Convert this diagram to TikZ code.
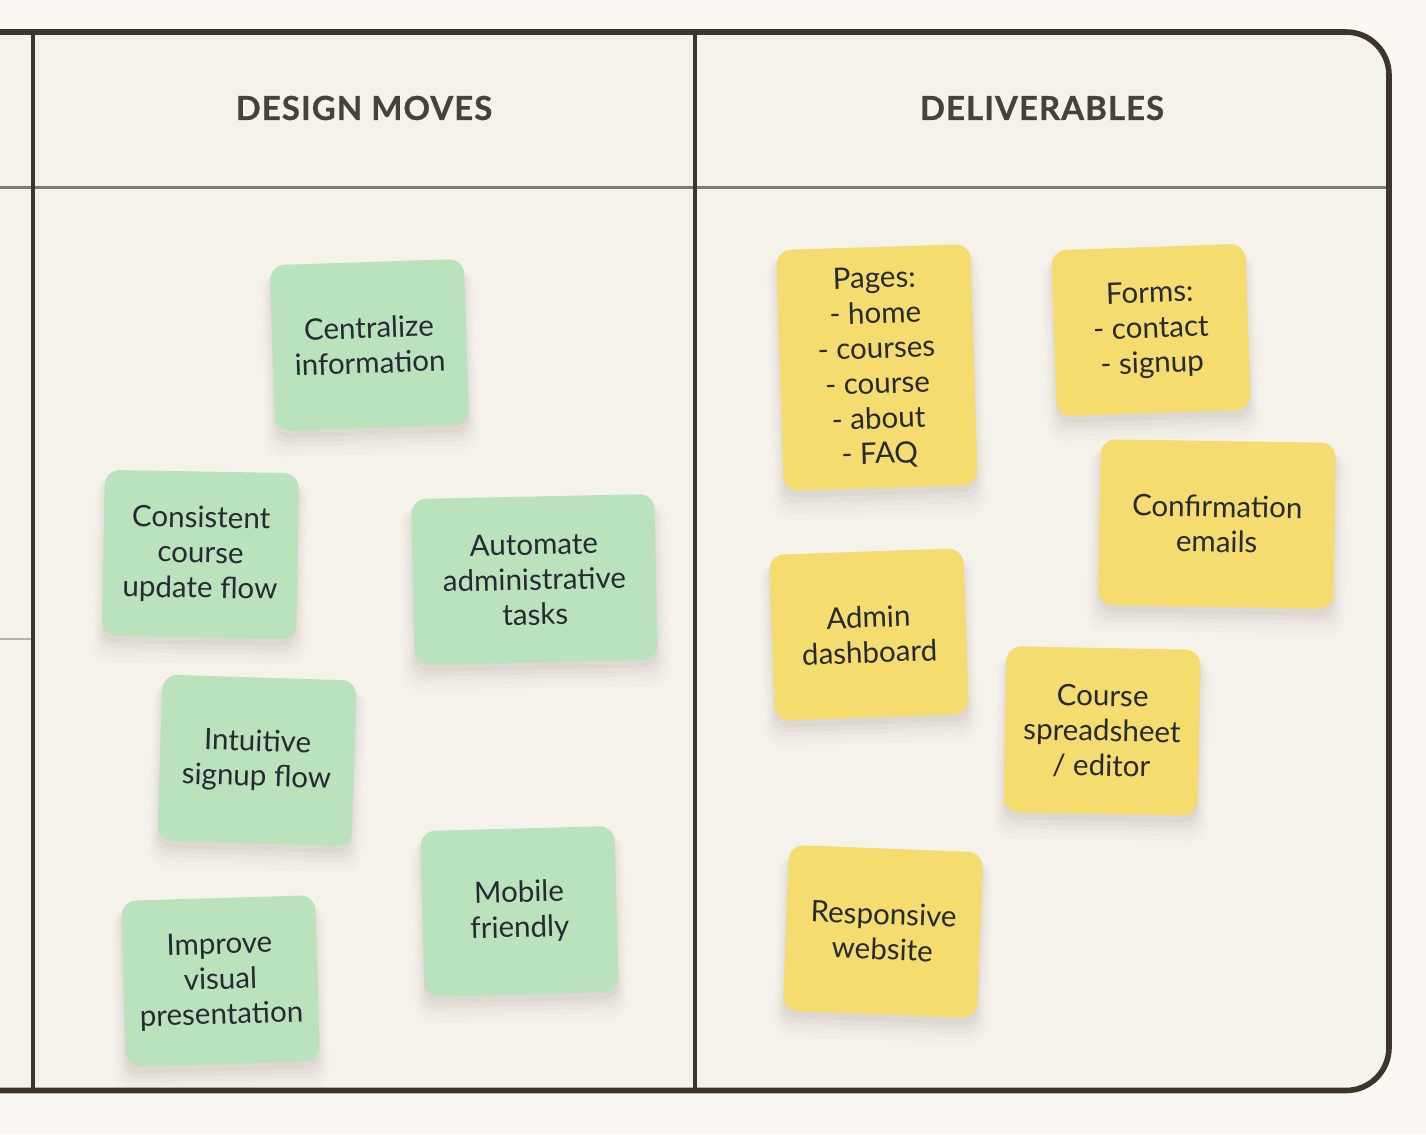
\documentclass[tikz,border=0pt]{standalone}
\usepackage{xcolor}
\usepackage{fontspec}
\setsansfont{Lato}
\usepackage{tikz}
\usetikzlibrary{shadows}

\definecolor{pagebg}{HTML}{FBF8F3}
\definecolor{boardbg}{HTML}{F5F1EB}
\definecolor{frame}{HTML}{3D342A}
\definecolor{headline}{HTML}{7D7C6E}
\definecolor{faintline}{HTML}{B5B1A8}
\definecolor{headink}{HTML}{46423B}
\definecolor{ink}{HTML}{272A35}
\definecolor{shade}{HTML}{5E5648}
\definecolor{greennote}{HTML}{BAE2BD}
\definecolor{yellownote}{HTML}{F4DC6F}

\begin{document}
\begin{tikzpicture}[
        softshadow/.style={
            general shadow={fill=shade, opacity=0.015,
                shadow yshift=-0.16cm, shadow scale=1.10},
            general shadow={fill=shade, opacity=0.02,
                shadow yshift=-0.14cm, shadow scale=1.07},
            general shadow={fill=shade, opacity=0.03,
                shadow yshift=-0.12cm, shadow scale=1.045},
            general shadow={fill=shade, opacity=0.04,
                shadow yshift=-0.10cm, shadow scale=1.02},
            general shadow={fill=shade, opacity=0.05,
                shadow yshift=-0.07cm, shadow scale=1.0}
        },
        note/.style={
            softshadow,
            rounded corners=0.15cm,
            minimum width=1.94cm,
            minimum height=1.66cm,
            inner sep=1pt,
            align=center,
            text=ink,
            font=\sffamily\fontsize{8.4}{10}\selectfont
        },
        greenbox/.style={note, fill=greennote},
        yellowbox/.style={note, fill=yellownote},
        heading/.style={
            text=headink,
            font=\sffamily\bfseries\addfontfeatures{LetterSpace=3,FakeBold=0.6}\fontsize{9.4}{11}\selectfont
        }
    ]

    % page and board
    \fill[pagebg] (0,0) rectangle (14.26,-11.34);
    \useasboundingbox (0,0) rectangle (14.26,-11.34);

    \fill[boardbg, rounded corners=0.43cm]
        (-1,-0.32) -- (13.89,-0.32) -- (13.89,-10.905) -- (-1,-10.905);

    \draw[headline, line width=0.8pt] (0,-1.875) -- (13.87,-1.875);
    \draw[faintline, line width=0.8pt] (0,-6.39) -- (0.31,-6.39);

    \draw[frame, line width=1.25pt] (0.33,-0.32) -- (0.33,-10.905);
    \draw[frame, line width=1.25pt] (6.95,-0.32) -- (6.95,-10.905);

    \draw[frame, line width=1.6pt, rounded corners=0.43cm]
        (-1,-0.32) -- (13.89,-0.32) -- (13.89,-10.905) -- (-1,-10.905);

    \node[heading] (moves) at (3.64,-1.08) {DESIGN MOVES};
    \node[heading] (deliverables) at (10.42,-1.08) {DELIVERABLES};

    % design moves
    \node[greenbox, rotate=1.9] (centralize) at (3.695,-3.45)
    {Centralize\\ information};

    \node[greenbox, rotate=-1] (consistent) at (2.005,-5.545)
    {Consistent\\ course\\ update flow};

    \node[greenbox, rotate=1.2, minimum width=2.43cm] (automate) at (5.345,-5.795)
    {Automate\\ administrative\\ tasks};

    \node[greenbox, rotate=-1.8] (intuitive) at (2.57,-7.605)
    {Intuitive\\ signup flow};

    \node[greenbox, rotate=1.7] (improve) at (2.205,-9.81)
    {Improve\\ visual\\ presentation};

    \node[greenbox, rotate=1.5] (mobile) at (5.195,-9.115)
    {Mobile\\ friendly};

    % deliverables
    \node[yellowbox, rotate=1.8, minimum height=2.41cm] (pages) at (8.77,-3.675)
    {Pages:\\ - home\\ - courses\\ - course\\ - about\\ - FAQ};

    \node[yellowbox, rotate=2] (forms) at (11.51,-3.30)
    {Forms:\\ - contact\\ - signup};

    \node[yellowbox, rotate=-0.9, minimum width=2.35cm] (confirm) at (12.17,-5.24)
    {Confirmation\\ emails};

    \node[yellowbox, rotate=2] (admin) at (8.69,-6.345)
    {Admin\\ dashboard};

    \node[yellowbox, rotate=-1.1] (sheet) at (11.02,-7.31)
    {Course\\ spreadsheet\\ / editor};

    \node[yellowbox, rotate=-2.2] (responsive) at (8.83,-9.315)
    {Responsive\\ website};

\end{tikzpicture}
\end{document}
